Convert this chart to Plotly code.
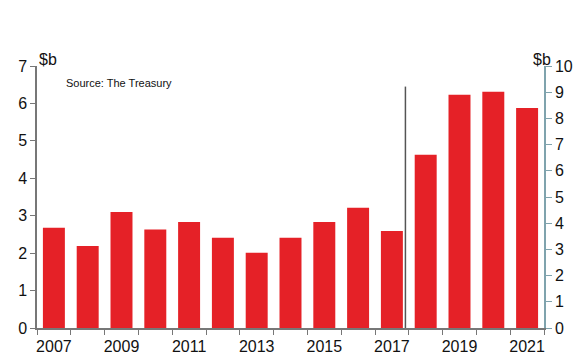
import plotly.graph_objects as go

years = list(range(2007, 2022))
values = [2.68, 2.19, 3.10, 2.63, 2.83, 2.41, 2.01, 2.41, 2.83, 3.21, 2.59, 4.63, 6.23, 6.31, 5.88]
left_ticks = [0, 1, 2, 3, 4, 5, 6, 7]
right_ticks = list(range(0, 11))
label_years = [2007, 2009, 2011, 2013, 2015, 2017, 2019, 2021]

FONT = "Liberation Sans, Arial, sans-serif"

fig = go.Figure()
fig.add_trace(go.Bar(x=years, y=values, marker=dict(color="#e52127", line=dict(width=0)),
                     width=0.65, showlegend=False))
fig.add_trace(go.Scatter(x=[years[0]], y=[None], yaxis="y2", showlegend=False, hoverinfo="skip"))

fig.add_shape(type="line", xref="x", yref="y", x0=2017.4, x1=2017.4, y0=0, y1=6.45,
              line=dict(color="#555555", width=1.5))

fig.update_layout(
    width=582, height=354,
    margin=dict(l=37, r=38, t=66, b=26, autoexpand=False),
    plot_bgcolor="white", paper_bgcolor="white",
    font=dict(family=FONT, size=16, color="#111111"),
    bargap=0.35,
    xaxis=dict(range=[2006.5, 2021.5], tickvals=label_years, ticks="outside", ticklen=3,
               tickcolor="rgba(0,0,0,0)", showline=True, automargin=False,
               linecolor="#777777", linewidth=1.5, showgrid=False, zeroline=False,
               tickfont=dict(size=16),
               minor=dict(tick0=2006.5, dtick=1, ticks="outside", ticklen=5, tickcolor="#777777",
                          showgrid=False)),
    yaxis=dict(range=[0, 7], tickvals=left_ticks, ticks="outside", ticklen=5, tickcolor="#777777",
               showline=True, linecolor="#777777", linewidth=1.5, showgrid=False, zeroline=False,
               automargin=False, tickfont=dict(size=16)),
    yaxis2=dict(range=[0, 10], tickvals=right_ticks, overlaying="y", side="right", ticks="outside",
                ticklen=6, tickcolor="#7fa3ad", showline=True, linecolor="#7fa3ad", linewidth=1.5,
                showgrid=False, zeroline=False, automargin=False, tickfont=dict(size=16)),
    annotations=[
        dict(text="$b", xref="paper", yref="paper", x=0.0, y=1.0, xanchor="left", yanchor="bottom",
             showarrow=False, font=dict(size=16), xshift=0, yshift=-4),
        dict(text="$b", xref="paper", yref="paper", x=1.0, y=1.0, xanchor="right", yanchor="bottom",
             showarrow=False, font=dict(size=16), xshift=9, yshift=-4),
        dict(text="Source: The Treasury", xref="paper", yref="paper", x=0.0, y=1.0,
             xanchor="left", yanchor="middle", showarrow=False, font=dict(size=11),
             xshift=27, yshift=-17),
    ],
)

fig.write_html("out.html")
